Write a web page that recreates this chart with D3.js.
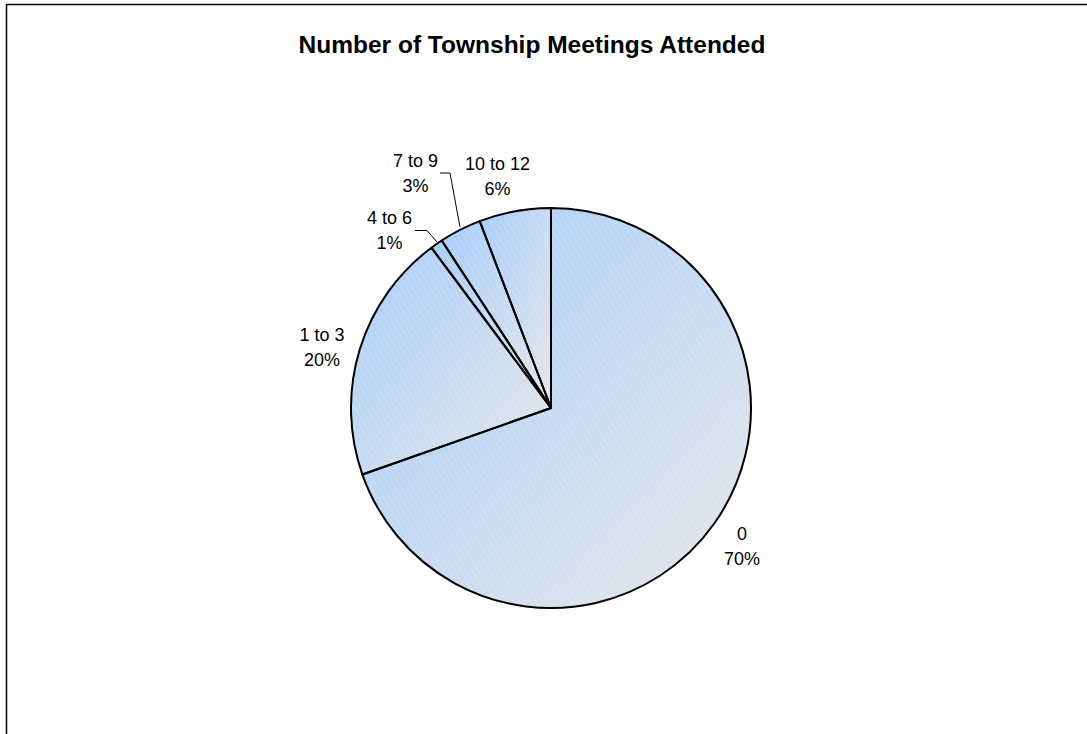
<!DOCTYPE html>
<html>
<head>
<meta charset="utf-8">
<script src="https://cdn.jsdelivr.net/npm/d3@7"></script>
<style>
  html, body { margin: 0; padding: 0; background: #fff; }
  svg { display: block; }
</style>
</head>
<body>
<svg id="chart" width="1087" height="734"></svg>
<script>
const title = "Number of Township Meetings Attended";
const categories = ["0", "1 to 3", "4 to 6", "7 to 9", "10 to 12"];
const percents = [69.6, 20.2, 1.0, 3.4, 5.8];

const W = 1087, H = 734;
const cx = 551, cy = 408, R = 200;
const svg = d3.select("#chart");

// frame
svg.append("rect").attr("x", 6.5).attr("y", 4.5).attr("width", 1200).attr("height", 900)
  .attr("fill", "#fff").attr("stroke", "#000").attr("stroke-width", 1.5);

// title
svg.append("text").attr("x", 532).attr("y", 53).attr("text-anchor", "middle")
  .attr("font-family", "Liberation Sans, Arial, sans-serif").attr("font-weight", "bold")
  .attr("font-size", 24.5).attr("fill", "#000").text(title);

const defs = svg.append("defs");
const grad = defs.append("linearGradient").attr("id", "sliceGrad")
  .attr("x1", 0).attr("y1", 0).attr("x2", 1).attr("y2", 1);
grad.append("stop").attr("offset", "0%").attr("stop-color", "#a6cdfa");
grad.append("stop").attr("offset", "100%").attr("stop-color", "#e6e7ea");

const pat = defs.append("pattern").attr("id", "hatch").attr("patternUnits", "userSpaceOnUse")
  .attr("width", 5).attr("height", 5).attr("patternTransform", "rotate(-30)");
pat.append("line").attr("x1", 0).attr("y1", 0).attr("x2", 0).attr("y2", 5)
  .attr("stroke", "#fff").attr("stroke-width", 1).attr("stroke-opacity", 0.35);

const data = categories.map((c, i) => ({ cat: c, value: percents[i] }));
const pie = d3.pie().sort(null).value(d => d.value).startAngle(0).endAngle(2 * Math.PI);
const arcs = pie(data);
const arc = d3.arc().innerRadius(0).outerRadius(R);

const g = svg.append("g").attr("transform", `translate(${cx},${cy})`);
g.selectAll("path.fill").data(arcs).enter().append("path")
  .attr("d", arc).attr("fill", "url(#sliceGrad)");
g.selectAll("path.hatch").data(arcs).enter().append("path")
  .attr("d", arc).attr("fill", "url(#hatch)");
g.selectAll("path.edge").data(arcs).enter().append("path")
  .attr("d", arc).attr("fill", "none").attr("stroke", "#000")
  .attr("stroke-width", 2).attr("stroke-linejoin", "round");

// label placement (offsets from default polar position, for crowded small slices)
const labelArc = d3.arc().innerRadius(245).outerRadius(245);
const overrides = {
  "0": { x: 742, y: 540 },
  "1 to 3": { x: 322, y: 341 },
  "4 to 6": { x: 389.5, y: 224, leader: [[415, 230.5], [427, 230.5], [437, 242]] },
  "7 to 9": { x: 415.5, y: 167, leader: [[440, 173], [450, 173], [460, 227]] },
  "10 to 12": { x: 497.5, y: 170 }
};

const fontFam = "Liberation Sans, Arial, sans-serif";
arcs.forEach(a => {
  const o = overrides[a.data.cat];
  let x, y;
  if (o) { x = o.x; y = o.y; }
  else { const c = labelArc.centroid(a); x = cx + c[0]; y = cy + c[1]; }
  const t = svg.append("text").attr("text-anchor", "middle")
    .attr("font-family", fontFam).attr("font-size", 18).attr("fill", "#000");
  t.append("tspan").attr("x", x).attr("y", y).text(a.data.cat);
  t.append("tspan").attr("x", x).attr("y", y + 25).text(Math.round(a.data.value) + "%");
  if (o && o.leader) {
    svg.append("path").attr("d", d3.line()(o.leader))
      .attr("fill", "none").attr("stroke", "#000").attr("stroke-width", 1);
  }
});
</script>
</body>
</html>
